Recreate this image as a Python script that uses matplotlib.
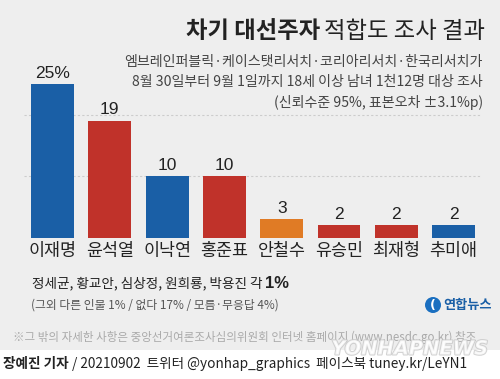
import matplotlib
matplotlib.use("Agg")
import matplotlib.pyplot as plt
from matplotlib.patches import Rectangle, Ellipse
import matplotlib.patheffects as pe

plt.rcParams['font.family'] = ['Noto Sans CJK KR', 'DejaVu Sans']

categories = ['이재명', '윤석열', '이낙연', '홍준표', '안철수', '유승민', '최재형', '추미애']
values = [25, 19, 10, 10, 3, 2, 2, 2]
value_labels = ['25%', '19', '10', '10', '3', '2', '2', '2']
colors = ['#1a5fa6', '#c0322a', '#1a5fa6', '#c0322a', '#e07b25', '#c0322a', '#c0322a', '#1a5fa6']

W, H = 500, 379
fig = plt.figure(figsize=(5.0, 3.79), dpi=100)
fig.patch.set_facecolor('white')

def fx(px):
    return px / W

def fy(py):
    return 1 - py / H

# gray card
fig.patches.append(Rectangle((0, fy(350)), 1, 350 / H, transform=fig.transFigure,
                             facecolor='#eeeeee', edgecolor='none', zorder=-5))

ax = fig.add_axes([fx(23.85), fy(237.7), 458.4 / W, 184 / H])
ax.set_zorder(1)
ax.set_facecolor('none')
x = list(range(len(categories)))
ax.bar(x, values, width=0.75, color=colors, zorder=3)
ax.set_xlim(-0.5, 7.5)
ax.set_ylim(0, 30)
for i, (v, lab) in enumerate(zip(values, value_labels)):
    ax.text(i, v + 0.6, lab, ha='center', va='bottom', fontsize=12.5, color='#222222',
            family=['Liberation Sans', 'DejaVu Sans'])
for gy in [10, 20]:
    ax.axhline(gy, color='#cccccc', lw=0.8, ls=(0, (2, 2)), zorder=1)
ax.set_xticks(x)
ax.set_xticklabels(categories, fontsize=12.5, color='#222222')
ax.tick_params(axis='x', length=0, pad=3)
ax.set_yticks([])
for s in ax.spines.values():
    s.set_visible(False)

# title
t2 = fig.text(fx(485), fy(31), '적합도 조사 결과', ha='right', va='center', fontsize=16.8,
              color='#222222')
fig.canvas.draw()
bb = t2.get_window_extent()
fig.text(bb.x0 / (W) - fx(4), fy(31), '차기 대선주자', ha='right', va='center', fontsize=16.8,
         fontweight='bold', color='#222222')

sub = ['엠브레인퍼블릭·케이스탯리서치·코리아리서치·한국리서치가',
       '8월 30일부터 9월 1일까지 18세 이상 남녀 1천12명 대상 조사',
       '(신뢰수준 95%, 표본오차 ±3.1%p)']
for j, s in enumerate(sub):
    fig.text(fx(483), fy(62 + 20.3 * j), s, ha='right', va='center', fontsize=10.1,
             color='#444444')

# notes
n1 = fig.text(fx(32), fy(283), '정세균, 황교안, 심상정, 원희룡, 박용진 각 ', ha='left', va='center',
              fontsize=9.8, color='#222222')
fig.canvas.draw()
bb = n1.get_window_extent()
fig.text(bb.x1 / W, fy(283), '1%', ha='left', va='center', fontsize=12, fontweight='bold',
         color='#222222', family=['Liberation Sans', 'DejaVu Sans'])
fig.text(fx(31), fy(305), '(그외 다른 인물 1% / 없다 17% / 모름·무응답 4%)', ha='left', va='center',
         fontsize=8.5, color='#555555')

# logo
fig.patches.append(Ellipse((fx(433), fy(305)), 16 / W, 16 / H, transform=fig.transFigure,
                           facecolor='#1a6fc0', edgecolor='none', zorder=2))
fig.text(fx(433), fy(305), '(', ha='center', va='center', fontsize=9, color='white',
         fontweight='bold', family=['DejaVu Sans'])
fig.text(fx(443), fy(305), '연합뉴스', ha='left', va='center', fontsize=9.5,
         fontweight='bold', color='#1a5fa6')

# footnote
fig.text(fx(13), fy(337), '※그 밖의 자세한 사항은 중앙선거여론조사심의위원회 인터넷 홈페이지 (www.nesdc.go.kr) 참조',
         ha='left', va='center', fontsize=8.3, color='#aaaaaa', style='italic')

# credit line
c1 = fig.text(fx(3), fy(364), '장예진 기자', ha='left', va='center', fontsize=9.8,
              fontweight='bold', color='#222222')
fig.canvas.draw()
bb = c1.get_window_extent()
fig.text(bb.x1 / W, fy(364), ' / 20210902  트위터 @yonhap_graphics  페이스북 tuney.kr/LeYN1',
         ha='left', va='center', fontsize=9.8, color='#222222')

# watermark
fig.text(fx(410), fy(349), 'YONHAPNEWS', ha='center', va='center', fontsize=14,
         fontweight='bold', style='italic', color='white', alpha=0.8,
         family=['DejaVu Sans'],
         path_effects=[pe.withStroke(linewidth=1.5, foreground='#c8c8c8')])

fig.savefig('out.png', dpi=100, facecolor='white')
